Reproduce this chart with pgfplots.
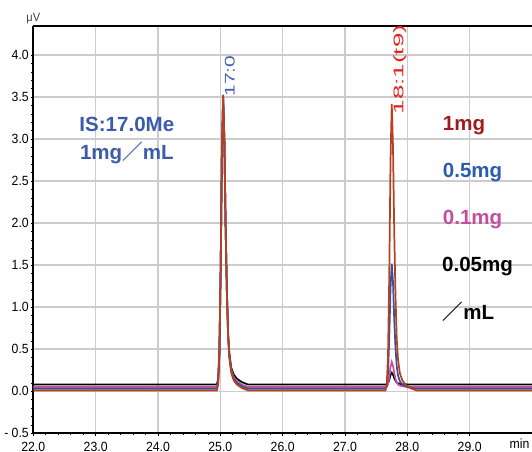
\documentclass[border=0pt]{standalone}
\usepackage{fontspec}
\setmainfont{Liberation Sans}
\newfontfamily\cjk{Noto Sans CJK JP}
\newfontfamily\tickfont[FakeStretch=0.92]{Liberation Sans}
\usepackage{pgfplots}
\pgfplotsset{compat=1.18}
\definecolor{cred}{HTML}{B5411E}
\definecolor{cblue}{HTML}{3A4FA0}
\definecolor{cpink}{HTML}{C8509A}
\definecolor{cblack}{HTML}{000000}
\definecolor{tblue}{HTML}{3A5CAA}
\definecolor{tred}{HTML}{A01C1C}
\definecolor{tblue2}{HTML}{2C5CAE}
\definecolor{tpink}{HTML}{C44E9E}
\definecolor{lblue}{HTML}{4563B0}
\definecolor{lred}{HTML}{E8231E}
\begin{document}
\begin{tikzpicture}
\begin{axis}[
  at={(0,0)}, anchor=south west,
  scale only axis, width=374pt, height=305.7pt,
  xmin=22, xmax=30, ymin=-0.5, ymax=4.35,
  clip=false,
  axis lines*=left,
  axis line style={line width=1.5pt, black, -},
  xtick={22,23,24,25,26,27,28,29},
  xticklabels={22.0,23.0,24.0,25.0,26.0,27.0,28.0,29.0},
  ytick={-0.5,0,0.5,1,1.5,2,2.5,3,3.5,4},
  yticklabels={- 0.5,0.0,0.5,1.0,1.5,2.0,2.5,3.0,3.5,4.0},
  grid=major, major grid style={black!20, line width=1.2pt},
  minor y tick num=4, minor x tick num=4,
  tick align=outside,
  major tick length=2pt, minor tick length=1.5pt,
  tick style={black, line width=0.5pt},
  ticklabel style={font=\tickfont\fontsize{10}{11}\selectfont, text=black},
  yticklabel style={anchor=east, inner sep=0pt, xshift=-1.2pt},
  xticklabel style={anchor=north, inner sep=0pt, yshift=-4.2pt},
]
\addplot[cblack, line width=1.3pt] coordinates {(22,0.08) (24.945,0.08) (24.965,0.15) (24.985,0.49) (25.005,1.44) (25.025,2.80) (25.045,3.48) (25.065,2.97) (25.085,1.95) (25.105,1.20) (25.125,0.69) (25.145,0.45) (25.175,0.28) (25.215,0.20) (25.265,0.15) (25.345,0.11) (25.445,0.08) (27.65,0.08) (27.67,0.083) (27.69,0.097) (27.71,0.136) (27.73,0.192) (27.75,0.22) (27.77,0.199) (27.79,0.157) (27.81,0.126) (27.83,0.105) (27.85,0.095) (27.88,0.088) (27.92,0.085) (27.97,0.083) (28.05,0.081) (28.15,0.08) (30,0.08)};
\addplot[cpink, line width=1.3pt] coordinates {(22,0.05) (24.945,0.05) (24.965,0.12) (24.985,0.46) (25.005,1.43) (25.025,2.81) (25.045,3.50) (25.065,2.98) (25.085,1.95) (25.105,1.19) (25.125,0.67) (25.145,0.43) (25.175,0.26) (25.215,0.17) (25.265,0.12) (25.345,0.08) (25.445,0.05) (27.65,0.05) (27.67,0.056) (27.69,0.086) (27.71,0.17) (27.73,0.29) (27.75,0.35) (27.77,0.305) (27.79,0.215) (27.81,0.15) (27.83,0.104) (27.85,0.083) (27.88,0.068) (27.92,0.06) (27.97,0.056) (28.05,0.052) (28.15,0.05) (30,0.05)};
\addplot[cblue, line width=1.3pt] coordinates {(22,0.03) (24.945,0.03) (24.965,0.10) (24.985,0.45) (25.005,1.42) (25.025,2.81) (25.045,3.50) (25.065,2.98) (25.085,1.94) (25.105,1.18) (25.125,0.65) (25.145,0.41) (25.175,0.24) (25.215,0.15) (25.265,0.10) (25.345,0.06) (25.445,0.03) (27.65,0.03) (27.67,0.06) (27.69,0.21) (27.71,0.63) (27.73,1.22) (27.75,1.52) (27.77,1.30) (27.79,0.85) (27.81,0.52) (27.83,0.30) (27.85,0.19) (27.88,0.12) (27.92,0.08) (27.97,0.06) (28.05,0.04) (28.15,0.03) (30,0.03)};
\addplot[cred, line width=1.3pt] coordinates {(22,0.01) (24.945,0.01) (24.965,0.08) (24.985,0.43) (25.005,1.42) (25.025,2.83) (25.045,3.53) (25.065,3.00) (25.085,1.95) (25.105,1.17) (25.125,0.64) (25.145,0.40) (25.175,0.22) (25.215,0.13) (25.265,0.08) (25.345,0.04) (25.445,0.01) (27.65,0.01) (27.67,0.078) (27.69,0.42) (27.71,1.37) (27.73,2.74) (27.75,3.42) (27.77,2.91) (27.79,1.89) (27.81,1.14) (27.83,0.62) (27.85,0.385) (27.88,0.215) (27.92,0.13) (27.97,0.078) (28.05,0.037) (28.15,0.01) (30,0.01)};
\draw[black, line width=1.5pt] (rel axis cs:0,1) -- (rel axis cs:1,1);
\node[anchor=base, inner sep=0pt, text=black!75, font=\tickfont\fontsize{9}{10}\selectfont] at ([yshift=3.5pt]rel axis cs:0,1) {μV};
\node[anchor=north, inner sep=0pt, text=black, font=\tickfont\fontsize{10}{11}\selectfont] at ([yshift=-4.2pt]axis cs:29.8,-0.5) {min};
\node[anchor=base, inner sep=0pt, text=tblue, font=\fontsize{15.4}{18}\selectfont\bfseries] at (axis cs:23.50,3.095) {IS:17.0Me};
\node[anchor=base, inner sep=0pt, text=tblue, font=\fontsize{15.4}{18}\selectfont\bfseries] at (axis cs:23.50,2.762) {1mg{\cjk\bfseries ／}mL};
\node[rotate=90, inner sep=0pt, text=lblue, font=\fontsize{10.5}{11}\selectfont] at (axis cs:25.15,3.75) {\scalebox{1.5}[1]{17:0}};
\node[rotate=90, inner sep=0pt, text=lred, font=\fontsize{10.5}{11}\selectfont] at (axis cs:27.88,3.83) {\scalebox{1.85}[1]{18:1(t9)}};
\node[anchor=base west, inner sep=0pt, text=tred, font=\fontsize{15.4}{18}\selectfont\bfseries] at (axis cs:28.567,3.103) {1mg};
\node[anchor=base west, inner sep=0pt, text=tblue2, font=\fontsize{15.4}{18}\selectfont\bfseries] at (axis cs:28.567,2.54) {0.5mg};
\node[anchor=base west, inner sep=0pt, text=tpink, font=\fontsize{15.4}{18}\selectfont\bfseries] at (axis cs:28.567,1.99) {0.1mg};
\node[anchor=base west, inner sep=0pt, text=black, font=\fontsize{15.4}{18}\selectfont\bfseries] at (axis cs:28.555,1.43) {0.05mg};
\node[anchor=base west, inner sep=0pt, text=black, font=\fontsize{15.4}{18}\selectfont\bfseries] at (axis cs:28.567,0.853) {{\cjk\bfseries ／}mL};
\end{axis}
\pgfresetboundingbox
\path[use as bounding box] (-25pt,-14pt) rectangle (374pt,325pt);
\end{tikzpicture}
\end{document}
